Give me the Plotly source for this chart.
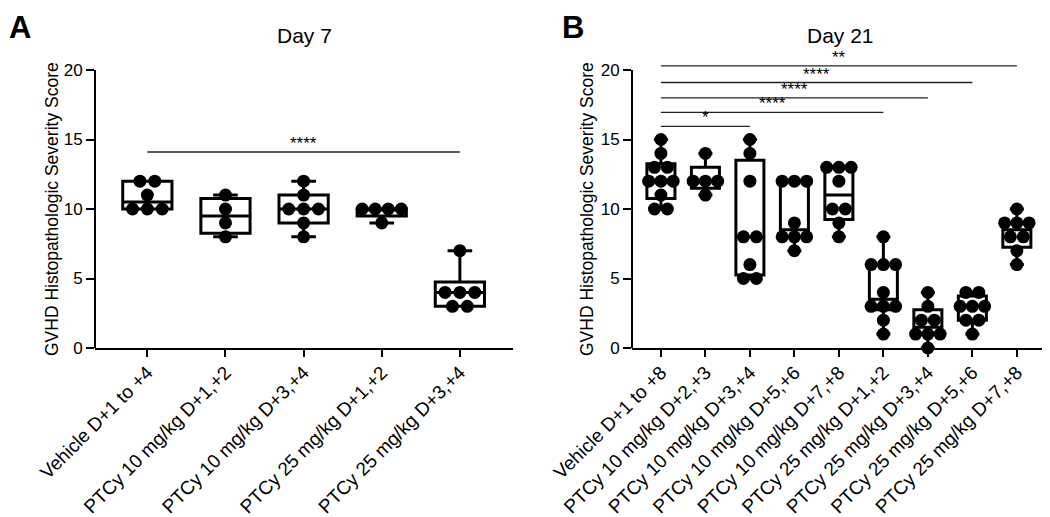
import numpy as np
import plotly.graph_objects as go

# ---------------- data ----------------
cats_day7 = ["Vehicle D+1 to +4", "PTCy 10 mg/kg D+1,+2", "PTCy 10 mg/kg D+3,+4",
             "PTCy 25 mg/kg D+1,+2", "PTCy 25 mg/kg D+3,+4"]
d7_vehicle = [10, 10, 10, 11, 12, 12]
d7_p10_d12 = [8, 9, 10, 11]
d7_p10_d34 = [8, 9, 10, 10, 10, 11, 12]
d7_p25_d12 = [9, 10, 10, 10, 10]
d7_p25_d34 = [3, 3, 4, 4, 4, 7]
day7_groups = [d7_vehicle, d7_p10_d12, d7_p10_d34, d7_p25_d12, d7_p25_d34]

cats_day21 = ["Vehicle D+1 to +8", "PTCy 10 mg/kg D+2,+3", "PTCy 10 mg/kg D+3,+4",
              "PTCy 10 mg/kg D+5,+6", "PTCy 10 mg/kg D+7,+8", "PTCy 25 mg/kg D+1,+2",
              "PTCy 25 mg/kg D+3,+4", "PTCy 25 mg/kg D+5,+6", "PTCy 25 mg/kg D+7,+8"]
d21_vehicle = [10, 10, 11, 12, 12, 12, 13, 13, 14, 15]
d21_p10_d23 = [11, 12, 12, 12, 14]
d21_p10_d34 = [5, 5, 6, 8, 8, 12, 14, 15]
d21_p10_d56 = [7, 8, 8, 8, 9, 12, 12, 12]
d21_p10_d78 = [8, 9, 10, 10, 12, 13, 13, 13]
d21_p25_d12 = [1, 2, 3, 3, 3, 4, 6, 6, 6, 8]
d21_p25_d34 = [0, 1, 1, 1, 2, 2, 3, 4]
d21_p25_d56 = [1, 2, 2, 3, 3, 3, 4, 4]
d21_p25_d78 = [6, 7, 8, 8, 9, 9, 9, 10]
day21_groups = [d21_vehicle, d21_p10_d23, d21_p10_d34, d21_p10_d56, d21_p10_d78,
                d21_p25_d12, d21_p25_d34, d21_p25_d56, d21_p25_d78]

# significance comparisons: (group i, group j, label, bar level)
sig_day7_pairs = [(0, 4)]
sig_day7_labels = ["****"]
sig_day7_levels = [14.1]
sig_day21_pairs = [(0, 2), (0, 5), (0, 6), (0, 7), (0, 8)]
sig_day21_labels = ["*", "****", "****", "****", "**"]
sig_day21_levels = [15.95, 16.95, 18.0, 19.1, 20.3]

ytick_vals = [0, 5, 10, 15, 20]

# ---------------- layout helpers ----------------
W, H = 1050, 517
OFF = 8  # page body margin
FONT = "Arial, Liberation Sans, sans-serif"
Y_TOP = 21.2
PX_PER_UNIT = 13.9
Y_BOTTOM_PX = 348


def px(p):
    return (p - OFF) / W


def py(p):
    return (H - (p - OFF)) / H


y_domain = [py(Y_BOTTOM_PX), py(Y_BOTTOM_PX - Y_TOP * PX_PER_UNIT)]


def stats(groups):
    q1, med, q3, lo, hi = [], [], [], [], []
    for g in groups:
        a = np.asarray(g, float)
        q1.append(float(np.percentile(a, 25, method="weibull")))
        med.append(float(np.median(a)))
        q3.append(float(np.percentile(a, 75, method="weibull")))
        lo.append(float(a.min()))
        hi.append(float(a.max()))
    return q1, med, q3, lo, hi


def swarm(groups, step, span):
    xs, ys = [], []
    for i, g in enumerate(groups):
        vals, counts = np.unique(np.asarray(g, float), return_counts=True)
        for v, k in zip(vals, counts):
            s = step if k < 2 else min(step, span / (k - 1))
            for j in range(k):
                xs.append(i + (j - (k - 1) / 2) * s)
                ys.append(v)
    return xs, ys


fig = go.Figure()

panels = [
    dict(groups=day7_groups, cats=cats_day7, xa="x", ya="y", step=0.19, span=0.5,
         pairs=sig_day7_pairs, labels=sig_day7_labels, levels=sig_day7_levels),
    dict(groups=day21_groups, cats=cats_day21, xa="x2", ya="y2", step=0.29, span=0.55,
         pairs=sig_day21_pairs, labels=sig_day21_labels, levels=sig_day21_levels),
]

annotations = []
shapes = []
for p in panels:
    q1, med, q3, lo, hi = stats(p["groups"])
    n = len(p["groups"])
    fig.add_trace(go.Box(
        x=list(range(n)), q1=q1, median=med, q3=q3, lowerfence=lo, upperfence=hi,
        width=0.63, whiskerwidth=0.5, boxpoints=False,
        line=dict(color="black", width=3), fillcolor="white",
        xaxis=p["xa"], yaxis=p["ya"], hoverinfo="skip"))
    xs, ys = swarm(p["groups"], p["step"], p["span"])
    fig.add_trace(go.Scatter(
        x=xs, y=ys, mode="markers", marker=dict(color="black", size=13),
        xaxis=p["xa"], yaxis=p["ya"], cliponaxis=False))
    for (i, j), lab, lvl in zip(p["pairs"], p["labels"], p["levels"]):
        fig.add_trace(go.Scatter(
            x=[i, j], y=[lvl, lvl], mode="lines",
            line=dict(color="#222222", width=1.3),
            xaxis=p["xa"], yaxis=p["ya"], hoverinfo="skip"))
        annotations.append(dict(
            x=(i + j) / 2, y=lvl, xref=p["xa"], yref=p["ya"], text=lab,
            showarrow=False, yanchor="bottom", yshift=-3,
            font=dict(size=17, color="black", family=FONT)))
    # y-axis line from 0 to 20
    dom = "x domain" if p["xa"] == "x" else "x2 domain"
    shapes.append(dict(type="line", xref=dom, yref=p["ya"], x0=0, x1=0,
                       y0=ytick_vals[0], y1=ytick_vals[-1],
                       line=dict(color="black", width=2)))

xa_common = dict(ticks="outside", ticklen=7, tickwidth=2, tickcolor="black",
                 showline=True, linewidth=2, linecolor="black", showgrid=False,
                 zeroline=False, tickangle=-45, automargin=False, ticklabelstandoff=-3,
                 tickfont=dict(size=19, color="black", family=FONT))
ya_common = dict(range=[0, Y_TOP], domain=y_domain, tickvals=ytick_vals,
                 ticks="outside", ticklen=8, tickwidth=2, tickcolor="black",
                 showline=False, showgrid=False, zeroline=False, automargin=False,
                 tickfont=dict(size=17, color="black", family=FONT))

fig.update_layout(
    width=W, height=H, margin=dict(l=0, r=0, t=0, b=0, autoexpand=False),
    paper_bgcolor="white", plot_bgcolor="white", showlegend=False,
    xaxis=dict(domain=[px(95), px(513)], range=[-0.67, 4.68], anchor="y",
               tickvals=list(range(len(cats_day7))), ticktext=cats_day7, **xa_common),
    yaxis=dict(anchor="x", **ya_common),
    xaxis2=dict(domain=[px(632), px(1048)], range=[-0.65, 8.7], anchor="y2",
                tickvals=list(range(len(cats_day21))), ticktext=cats_day21, **xa_common),
    yaxis2=dict(anchor="x2", **ya_common),
    shapes=shapes,
)

title_font = dict(size=21, color="black", family=FONT)
axis_title_font = dict(size=17.5, color="black", family=FONT)
letter_font = dict(size=31, color="black", family=FONT)
annotations += [
    dict(x=0, y=1, xref="paper", yref="paper", text="<b>A</b>", showarrow=False,
         xanchor="left", yanchor="top", xshift=-1, font=letter_font),
    dict(x=px(560), y=1, xref="paper", yref="paper", text="<b>B</b>", showarrow=False,
         xanchor="left", yanchor="top", font=letter_font),
    dict(x=px((95 + 513) / 2), y=py(35), xref="paper", yref="paper", text="Day 7",
         showarrow=False, xanchor="center", yanchor="middle", font=title_font),
    dict(x=px((632 + 1048) / 2), y=py(35), xref="paper", yref="paper", text="Day 21",
         showarrow=False, xanchor="center", yanchor="middle", font=title_font),
    dict(x=px(52), y=10, xref="paper", yref="y", text="GVHD Histopathologic Severity Score",
         textangle=-90, showarrow=False, xanchor="center", yanchor="middle",
         font=axis_title_font),
    dict(x=px(587), y=10, xref="paper", yref="y2", text="GVHD Histopathologic Severity Score",
         textangle=-90, showarrow=False, xanchor="center", yanchor="middle",
         font=axis_title_font),
]
fig.update_layout(annotations=annotations)

fig.write_html("out.html")
